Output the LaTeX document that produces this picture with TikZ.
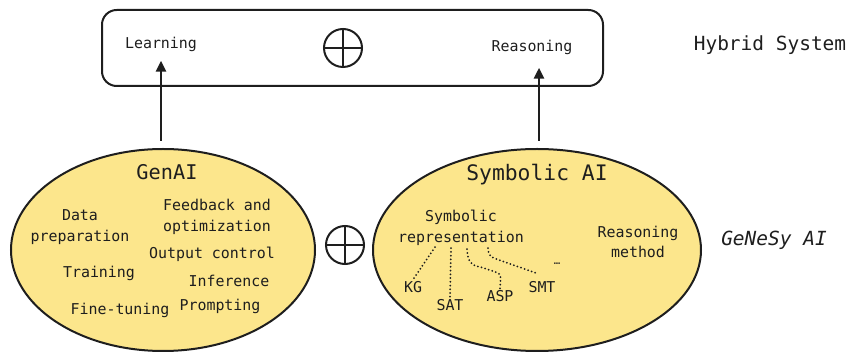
\documentclass[tikz,border=0pt]{standalone}
\usepackage{fontspec}
\setmainfont{DejaVu Sans Mono}
\usetikzlibrary{shapes.geometric,arrows.meta,calc}
\definecolor{cloud}{RGB}{252,230,140}
\definecolor{ink}{RGB}{30,30,30}
\begin{document}
\begin{tikzpicture}[x=0.75pt,y=-0.75pt,
  outline/.style={draw=ink, line width=1.5pt},
  blob/.style={outline, ellipse, fill=cloud, inner sep=0pt},
  item/.style={font=\fontsize{11.2}{15.5}\selectfont, align=center, inner sep=1pt, text=ink},
  title/.style={font=\fontsize{15.2}{18}\selectfont, inner sep=1pt, text=ink},
  side/.style={font=\fontsize{14.6}{18}\selectfont, inner sep=1pt, text=ink},
  oplus/.style={outline, circle, minimum size=28.5pt, inner sep=0pt},
  up/.style={draw=ink, line width=1.5pt, -{Triangle[length=8pt,width=7.5pt]}},
  tie/.style={draw=ink, line width=1.5pt, dash pattern=on 0pt off 2.8pt, line cap=round}
]
\useasboundingbox (0,0) rectangle (850,352);

% hybrid system frame
\node[outline, rounded corners=11pt, minimum width=375.75pt, minimum height=57pt] (hyb) at (352.5,48) {};
\node[item] (learn) at (161,44) {Learning};
\node[item] (reason) at (532,47) {Reasoning};
\node[oplus] (optop) at (343,48) {};
\draw[outline] (optop.north) -- (optop.south) (optop.west) -- (optop.east);
\node[side] (hlabel) at (770,45) {Hybrid System};

% the two components
\node[blob, minimum width=228pt, minimum height=151.5pt] (genai) at (163,250) {};
\node[blob, minimum width=246pt, minimum height=151.5pt] (symb) at (537,250) {};
\node[oplus] (opmid) at (345,245) {};
\draw[outline] (opmid.north) -- (opmid.south) (opmid.west) -- (opmid.east);
\node[side, font=\fontsize{14.6}{18}\selectfont\itshape] (glabel) at (774,240) {GeNeSy AI};

% GenAI contents
\node[title] (gtitle) at (167,172) {GenAI};
\node[item] (data) at (80,227) {Data\\preparation};
\node[item] (feed) at (217,217) {Feedback and\\optimization};
\node[item] (output) at (212,254) {Output control};
\node[item] (train) at (99,273) {Training};
\node[item] (infer) at (229,281) {Inference};
\node[item] (tune) at (120,310) {Fine-tuning};
\node[item] (prompt) at (220,306) {Prompting};

% Symbolic AI contents
\node[title, font=\fontsize{16}{18}\selectfont] (stitle) at (537,175) {Symbolic AI};
\node[item] (rep) at (461,228) {Symbolic\\representation};
\node[item] (method) at (638,242) {Reasoning\\method};
\node[item] (kg) at (413,287) {KG};
\node[item] (sat) at (450,305) {SAT};
\node[item] (asp) at (500,296) {ASP};
\node[item] (smt) at (542,287) {SMT};
\node[item, font=\fontsize{8}{10}\selectfont] (more) at (557,264) {…};

% dotted links from the representation to its formalisms
\draw[tie] ($(rep.south)+(-26,0)$) -- (kg.north);
\draw[tie] ($(rep.south)+(-10,1)$) -- (sat.north);
\draw[tie] ($(rep.south)+(6,2)$) .. controls ($(rep.south)+(7,14)$) and ($(rep.south)+(9,18)$) .. ($(rep.south)+(20,20)$)
  -- ($(rep.south)+(35,25)$) .. controls ($(rep.south)+(40,27)$) .. (asp.north);
\draw[tie] ($(rep.south)+(27,1)$) .. controls ($(rep.south)+(28,8)$) .. ($(rep.south)+(33,11)$) -- ($(smt.north)+(-4,-6)$);

% arrows into the hybrid system
\draw[up] ($(learn.south |- genai.north)+(0,-7)$) -- ($(learn.south)+(0,8)$);
\draw[up] ($(symb.north)+(2,-7)$) -- ($(reason.south)+(7,12)$);
\end{tikzpicture}
\end{document}
